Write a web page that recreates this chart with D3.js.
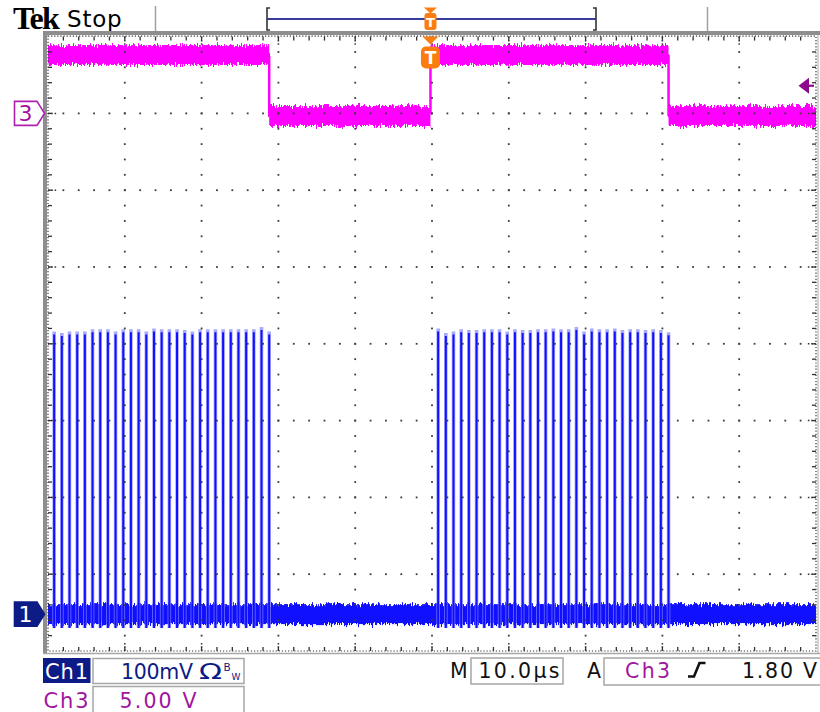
<!DOCTYPE html>
<html>
<head>
<meta charset="utf-8">
<script src="https://cdn.jsdelivr.net/npm/d3@7"></script>
<style>
  html, body { margin: 0; padding: 0; background: #fff; }
  svg { display: block; }
  text { font-family: "DejaVu Sans", sans-serif; }
</style>
</head>
<body>
<svg id="scope" width="820" height="712"></svg>
<script>
// ---- acquisition settings ----
const timePerDiv = 10;      // µs / div
const ch1VoltsPerDiv = 100; // mV / div
const ch3VoltsPerDiv = 5;   // V / div
const ch1PositionDiv = -3.52;
const ch3PositionDiv = 3;
const triggerLevel = 1.80;  // V on Ch3

// ---- Ch3: gate signal, segment boundaries (µs) and level of each segment (V) ----
const ch3Edges  = [-50, -21.2, -0.2, 30.8, 50];
const ch3Levels = [3.8, -0.17, 3.8, -0.17];
const ch3NoiseVpp = 1.3;

// ---- Ch1: pulse train, pulse times (µs) and peak amplitudes (mV) ----
const ch1PulseTimes = [
  -49.2, -48.2, -47.2, -46.2, -45.2, -44.2, -43.2, -42.2, -41.2, -40.2,
  -39.2, -38.2, -37.2, -36.2, -35.2, -34.2, -33.2, -32.2, -31.2, -30.2,
  -29.2, -28.2, -27.2, -26.2, -25.2, -24.2, -23.2, -22.2, -21.2,
  0.8, 1.8, 2.8, 3.8, 4.8, 5.8, 6.8, 7.8, 8.8, 9.8,
  10.8, 11.8, 12.8, 13.8, 14.8, 15.8, 16.8, 17.8, 18.8, 19.8,
  20.8, 21.8, 22.8, 23.8, 24.8, 25.8, 26.8, 27.8, 28.8, 29.8, 30.8
];
const ch1PulsePeaks = [
  368, 366, 368, 368, 368, 371, 371, 371, 368, 371,
  371, 371, 368, 372, 371, 371, 371, 370, 368, 371,
  371, 371, 371, 371, 371, 371, 371, 374, 368,
  372, 366, 368, 371, 370, 370, 371, 371, 371, 368,
  371, 370, 370, 371, 371, 372, 371, 371, 374, 368,
  372, 371, 371, 372, 370, 371, 371, 370, 371, 370, 367
];
const ch1NoiseMvpp = 26;
const ch1Undershoot = -18;  // mV

// ---- readouts ----
const headerBrand = "Tek";
const headerState = "Stop";
const ch1Label = "Ch1", ch1ScaleText = "100mV", ch1Coupling = "Ω", ch1BwTop = "B", ch1BwSub = "W";
const ch3Label = "Ch3", ch3ScaleText = "5.00 V";
const timebaseLabel = "M", timebaseText = "10.0µs";
const trigLabel = "A", trigSource = "Ch3", trigLevelText = "1.80 V";

// ---- colours ----
const C_CH1 = "#1010ff", C_CH1_TXT = "#0d1b86";
const C_CH3 = "#ff00ff", C_CH3_TXT = "#a0169e";
const C_ORANGE = "#fb7d0f";

// ---- graticule geometry ----
const X0 = 48, DIV = 76.8, Y0 = 36.6;
const X1 = X0 + 10 * DIV, Y1 = Y0 + 8 * DIV;

const svg = d3.select("#scope");

const x = d3.scaleLinear().domain([-5 * timePerDiv, 5 * timePerDiv]).range([X0, X1]);
const y1 = d3.scaleLinear()
  .domain([(-4 - ch1PositionDiv) * ch1VoltsPerDiv, (4 - ch1PositionDiv) * ch1VoltsPerDiv])
  .range([Y1, Y0]);
const y3 = d3.scaleLinear()
  .domain([(-4 - ch3PositionDiv) * ch3VoltsPerDiv, (4 - ch3PositionDiv) * ch3VoltsPerDiv])
  .range([Y1, Y0]);

// rough edge texture for the noisy traces
const defs = svg.append("defs");
const f = defs.append("filter").attr("id", "rough")
  .attr("x", "-1%").attr("y", "-60%").attr("width", "102%").attr("height", "220%")
  .attr("color-interpolation-filters", "sRGB");
f.append("feTurbulence").attr("type", "fractalNoise").attr("baseFrequency", "0.75 0.09")
  .attr("numOctaves", 2).attr("seed", 4).attr("result", "n");
f.append("feColorMatrix").attr("in", "n").attr("type", "matrix")
  .attr("values", "0 0 0 0 0.5  0 1 0 0 0  0 0 0 0 0  0 0 0 0 1").attr("result", "m");
f.append("feDisplacementMap").attr("in", "SourceGraphic").attr("in2", "m")
  .attr("scale", 10).attr("xChannelSelector", "R").attr("yChannelSelector", "G");

defs.append("clipPath").attr("id", "plotclip").append("rect")
  .attr("x", X0).attr("y", Y0).attr("width", X1 - X0).attr("height", Y1 - Y0);

// ---- header ----
svg.append("text").attr("x", 13).attr("y", 28.5).text(headerBrand)
  .style("font-family", "'Liberation Serif', serif").style("font-weight", "bold")
  .style("font-size", "32px").style("letter-spacing", "-1.8px").attr("fill", "#000");
svg.append("text").attr("x", 67).attr("y", 26.7).text(headerState)
  .style("font-size", "23px").style("letter-spacing", "0.8px").attr("fill", "#000");
svg.append("line").attr("x1", 155.5).attr("x2", 155.5).attr("y1", 6).attr("y2", 33)
  .attr("stroke", "#a0a0a0").attr("stroke-width", 1.5);
svg.append("line").attr("x1", 707.5).attr("x2", 707.5).attr("y1", 7).attr("y2", 33)
  .attr("stroke", "#a0a0a0").attr("stroke-width", 1.5);

// record view bar
svg.append("line").attr("x1", 267).attr("x2", 596).attr("y1", 19).attr("y2", 19)
  .attr("stroke", "#3a3d9e").attr("stroke-width", 2);
svg.append("path").attr("d", "M270,8 H267 V30 H270").attr("fill", "none").attr("stroke", "#333").attr("stroke-width", 1.6);
svg.append("path").attr("d", "M593,8 H596 V30 H593").attr("fill", "none").attr("stroke", "#333").attr("stroke-width", 1.6);

const xT = x(ch3Edges[2]);
svg.append("path").attr("d", `M${xT - 6.5},7.5 L${xT + 6.5},7.5 L${xT},13.5 Z`).attr("fill", C_ORANGE);
svg.append("rect").attr("x", xT - 6).attr("y", 13).attr("width", 12).attr("height", 17).attr("rx", 3)
  .attr("fill", C_ORANGE);
svg.append("text").attr("x", xT).attr("y", 27).attr("text-anchor", "middle").text("T")
  .style("font-size", "13px").style("font-weight", "bold").attr("fill", "#fff");

// ---- traces ----
const traces = svg.append("g").attr("clip-path", "url(#plotclip)");

// Ch3 gate
const g3 = traces.append("g").attr("filter", "url(#rough)");
const segs = ch3Levels.map((v, i) => ({ t0: ch3Edges[i], t1: ch3Edges[i + 1], v }));
g3.selectAll("rect").data(segs).join("rect")
  .attr("x", d => x(d.t0)).attr("width", d => x(d.t1) - x(d.t0))
  .attr("y", d => y3(d.v + ch3NoiseVpp / 2))
  .attr("height", d => y3(d.v - ch3NoiseVpp / 2) - y3(d.v + ch3NoiseVpp / 2))
  .attr("fill", C_CH3);
g3.selectAll("line").data(segs.slice(1)).join("line")
  .attr("x1", d => x(d.t0)).attr("x2", d => x(d.t0))
  .attr("y1", (d, i) => y3(segs[i].v)).attr("y2", d => y3(d.v))
  .attr("stroke", C_CH3).attr("stroke-width", 2.5);

// Ch1 baseline noise band
const g1 = traces.append("g");
g1.append("rect").attr("filter", "url(#rough)")
  .attr("x", x.range()[0]).attr("width", x.range()[1] - x.range()[0])
  .attr("y", y1(ch1NoiseMvpp / 2)).attr("height", y1(-ch1NoiseMvpp / 2) - y1(ch1NoiseMvpp / 2))
  .attr("fill", C_CH1);

// Ch1 pulses
const pulses = ch1PulseTimes.map((t, i) => ({ t, peak: ch1PulsePeaks[i] }));
g1.selectAll("line.halo").data(pulses).join("line").attr("class", "halo")
  .attr("x1", d => x(d.t)).attr("x2", d => x(d.t))
  .attr("y1", y1(ch1Undershoot)).attr("y2", d => y1(d.peak))
  .attr("stroke", "#8c8cff").attr("stroke-width", 3.6).attr("opacity", 0.75);
g1.selectAll("line.core").data(pulses).join("line").attr("class", "core")
  .attr("x1", d => x(d.t)).attr("x2", d => x(d.t))
  .attr("y1", y1(ch1Undershoot)).attr("y2", d => y1(d.peak) + 3)
  .attr("stroke", C_CH1).attr("stroke-width", 2);

// ---- graticule ----
const grid = svg.append("g");
const minorStep = DIV / 5;
const majorX = d3.range(1, 10).map(i => X0 + i * DIV);
const majorY = d3.range(1, 8).map(j => Y0 + j * DIV);
const minorX = d3.range(1, 50).map(i => X0 + i * minorStep);
const minorY = d3.range(1, 40).map(j => Y0 + j * minorStep);
const dots = [];
majorX.forEach(cx => minorY.forEach(cy => dots.push([cx, cy])));
majorY.forEach(cy => minorX.forEach(cx => dots.push([cx, cy])));
grid.selectAll("rect.dot").data(dots).join("rect").attr("class", "dot")
  .attr("x", d => d[0] - 0.9).attr("y", d => d[1] - 0.9).attr("width", 1.8).attr("height", 1.8)
  .attr("fill", "#3c3c3c");

// outer frame
svg.append("rect").attr("x", 43).attr("y", 31).attr("width", 777).attr("height", 4).attr("fill", "#8e8e8e");
svg.append("rect").attr("x", 43).attr("y", 31).attr("width", 4).attr("height", Y1 - 31 + 2).attr("fill", "#8e8e8e");
svg.append("line").attr("x1", 43).attr("x2", 820).attr("y1", Y1 + 2.5).attr("y2", Y1 + 2.5)
  .attr("stroke", "#a8a8a8").attr("stroke-width", 1.6);
svg.append("line").attr("x1", X1 + 2).attr("x2", X1 + 2).attr("y1", 35).attr("y2", Y1 + 2)
  .attr("stroke", "#b8b8b8").attr("stroke-width", 1.2);

// dotted border
grid.append("rect").attr("x", X0).attr("y", Y0 - 0.5).attr("width", X1 - X0).attr("height", Y1 - Y0 + 0.5)
  .attr("fill", "none").attr("stroke", "#333").attr("stroke-width", 1.2).attr("stroke-dasharray", "1.2,1.9");

// edge ticks
const tickLines = [];
minorX.forEach(cx => {
  tickLines.push([cx, Y0, cx, Y0 + 4]);
  tickLines.push([cx, Y1, cx, Y1 - 4]);
});
minorY.forEach(cy => {
  tickLines.push([X0, cy, X0 + 4, cy]);
  tickLines.push([X1, cy, X1 - 4, cy]);
});
grid.selectAll("line.tick").data(tickLines).join("line").attr("class", "tick")
  .attr("x1", d => d[0]).attr("y1", d => d[1]).attr("x2", d => d[2]).attr("y2", d => d[3])
  .attr("stroke", "#333").attr("stroke-width", 1.3);
const majorTicks = [];
majorX.forEach(cx => {
  majorTicks.push([cx, Y0, cx, Y0 + 10]);
  majorTicks.push([cx, Y1, cx, Y1 - 10]);
});
majorY.forEach(cy => {
  majorTicks.push([X0, cy, X0 + 10, cy]);
  majorTicks.push([X1, cy, X1 - 10, cy]);
});
grid.selectAll("line.mtick").data(majorTicks).join("line").attr("class", "mtick")
  .attr("x1", d => d[0]).attr("y1", d => d[1]).attr("x2", d => d[2]).attr("y2", d => d[3])
  .attr("stroke", "#333").attr("stroke-width", 1.5).attr("stroke-dasharray", "1.5,1.8");

// ---- markers ----
// trigger position in the graticule
svg.append("path").attr("d", `M${xT - 8},${Y0} L${xT + 8},${Y0} L${xT},${Y0 + 8} Z`).attr("fill", C_ORANGE);
svg.append("rect").attr("x", xT - 9.5).attr("y", 46.5).attr("width", 19).attr("height", 22).attr("rx", 5)
  .attr("fill", C_ORANGE);
svg.append("text").attr("x", xT).attr("y", 64).attr("text-anchor", "middle").text("T")
  .style("font-size", "17px").style("font-weight", "bold").attr("fill", "#fff");

// trigger level
const yTrig = y3(triggerLevel);
svg.append("path").attr("d", `M798.5,${yTrig} L809,${yTrig - 8} L809,${yTrig + 8} Z`).attr("fill", "#8c0a8c");
svg.append("line").attr("x1", 806).attr("x2", 814).attr("y1", yTrig).attr("y2", yTrig)
  .attr("stroke", "#8c0a8c").attr("stroke-width", 2.2);

// channel ground markers
function groundMarker(yc, label, fill, stroke, txt) {
  svg.append("path")
    .attr("d", `M14.5,${yc - 12} H37 L44.5,${yc} L37,${yc + 12} H14.5 Z`)
    .attr("fill", fill).attr("stroke", stroke).attr("stroke-width", 1.6);
  svg.append("text").attr("x", 25.5).attr("y", yc + 8).attr("text-anchor", "middle").text(label)
    .style("font-size", "22px").attr("fill", txt);
}
groundMarker(y3(0), "3", "#fff", "#b020b0", C_CH3_TXT);
groundMarker(y1(0), "1", C_CH1_TXT, C_CH1_TXT, "#fff");

// ---- status readouts ----
const boxStroke = "#a6a6a6";
svg.append("rect").attr("x", 43).attr("y", 658).attr("width", 47.5).attr("height", 25).attr("fill", C_CH1_TXT);
svg.append("text").attr("x", 45).attr("y", 678.5).text(ch1Label)
  .attr("textLength", 43).attr("lengthAdjust", "spacing")
  .style("font-size", "21px").attr("fill", "#fff");
svg.append("rect").attr("x", 93).attr("y", 658.5).attr("width", 151).attr("height", 25)
  .attr("fill", "none").attr("stroke", boxStroke).attr("stroke-width", 1.5);
svg.append("text").attr("x", 121).attr("y", 678.5).text(ch1ScaleText)
  .attr("textLength", 72).attr("lengthAdjust", "spacing")
  .style("font-size", "20.5px").attr("fill", C_CH1_TXT);
svg.append("text").attr("x", 199).attr("y", 678.5).text(ch1Coupling)
  .attr("textLength", 23).attr("lengthAdjust", "spacingAndGlyphs")
  .style("font-size", "20.5px").attr("fill", C_CH1_TXT);
svg.append("text").attr("x", 223.5).attr("y", 671).text(ch1BwTop)
  .style("font-size", "10.5px").attr("fill", C_CH1_TXT);
svg.append("text").attr("x", 231.5).attr("y", 680).text(ch1BwSub)
  .style("font-size", "9px").attr("fill", C_CH1_TXT);

svg.append("text").attr("x", 43.5).attr("y", 707.5).text(ch3Label)
  .attr("textLength", 45).attr("lengthAdjust", "spacing")
  .style("font-size", "21px").attr("fill", C_CH3_TXT);
svg.append("rect").attr("x", 93).attr("y", 686.5).attr("width", 151).attr("height", 30)
  .attr("fill", "none").attr("stroke", boxStroke).attr("stroke-width", 1.5);
svg.append("text").attr("x", 119.5).attr("y", 707.5).text(ch3ScaleText)
  .attr("textLength", 77).attr("lengthAdjust", "spacing")
  .style("font-size", "20.5px").attr("fill", C_CH3_TXT);

svg.append("text").attr("x", 450).attr("y", 677.5).text(timebaseLabel)
  .style("font-size", "20.5px").attr("fill", "#111");
svg.append("rect").attr("x", 471).attr("y", 658).attr("width", 92).attr("height", 26)
  .attr("fill", "none").attr("stroke", boxStroke).attr("stroke-width", 1.5);
svg.append("text").attr("x", 478.5).attr("y", 677.5).text(timebaseText)
  .attr("textLength", 81).attr("lengthAdjust", "spacing")
  .style("font-size", "20.5px").attr("fill", "#111");

svg.append("text").attr("x", 587).attr("y", 677.5).text(trigLabel)
  .style("font-size", "20.5px").attr("fill", "#111");
svg.append("rect").attr("x", 604).attr("y", 658).attr("width", 220).attr("height", 27)
  .attr("fill", "none").attr("stroke", boxStroke).attr("stroke-width", 1.5);
svg.append("text").attr("x", 625).attr("y", 677.5).text(trigSource)
  .attr("textLength", 45).attr("lengthAdjust", "spacing")
  .style("font-size", "20.5px").attr("fill", C_CH3_TXT);
svg.append("path").attr("d", "M688,676.5 H694 L699.5,663 H705.5")
  .attr("fill", "none").attr("stroke", "#111").attr("stroke-width", 2.6);
svg.append("text").attr("x", 742).attr("y", 677.5).text(trigLevelText)
  .attr("textLength", 75).attr("lengthAdjust", "spacing")
  .style("font-size", "20.5px").attr("fill", "#111");
</script>
</body>
</html>
